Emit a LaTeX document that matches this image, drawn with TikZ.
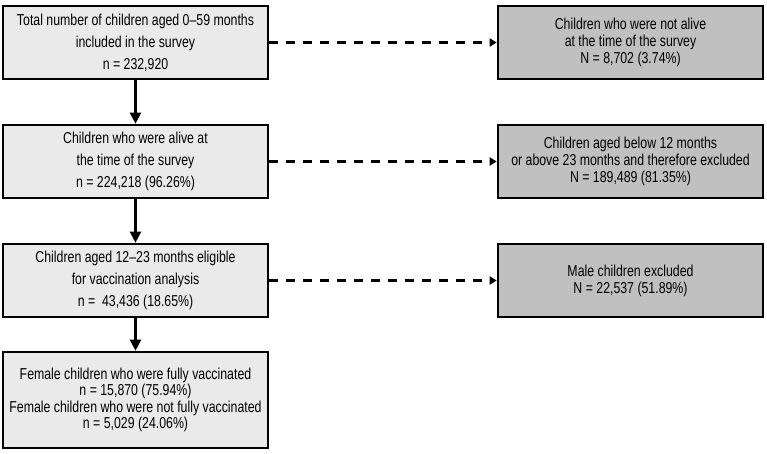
\documentclass[tikz,border=0pt]{standalone}
\usepackage{fontspec}
\setmainfont[FakeStretch=0.78]{Liberation Sans}
\usetikzlibrary{arrows.meta}
\definecolor{leftfill}{RGB}{234,234,234}
\definecolor{rightfill}{RGB}{192,192,192}
\tikzset{
  lbox/.style={draw=black, line width=2.6pt, fill=leftfill, minimum width=265pt, inner sep=0pt, align=center, font=\fontsize{15.8}{22}\selectfont},
  rbox/.style={draw=black, line width=2.6pt, fill=rightfill, minimum width=265pt, minimum height=73pt, inner sep=0pt, align=center, font=\fontsize{15.8}{17}\selectfont},
  solidarr/.style={line width=2.2pt, -{Triangle[length=11pt,width=11pt]}},
  dasharr/.style={line width=2.6pt, dash pattern=on 8.5pt off 8.5pt, -{Triangle[length=7pt,width=8pt]}}
}
\begin{document}
\begin{tikzpicture}[x=1pt,y=1pt]
\useasboundingbox (0,0) rectangle (767,-454);
\node[lbox, minimum height=73pt] (b1) at (135.5,-42.5) {Total number of children aged 0–59 months\\included in the survey\\n = 232,920};
\node[lbox, minimum height=73pt] (b2) at (135.5,-161.5) {Children who were alive at\\the time of the survey\\n = 224,218 (96.26\%)};
\node[lbox, minimum height=73pt] (b3) at (135.5,-280.5) {Children aged 12–23 months eligible\\for vaccination analysis\\n =\ \ 43,436 (18.65\%)};
\node[lbox, minimum height=96pt, font=\fontsize{15.8}{16.5}\selectfont] (b4) at (135.5,-400) {Female children who were fully vaccinated\\n = 15,870 (75.94\%)\\Female children who were not fully vaccinated\\n = 5,029 (24.06\%)};
\node[rbox] (r1) at (630.5,-42.5) {Children who were not alive\\at the time of the survey\\N = 8,702 (3.74\%)};
\node[rbox] (r2) at (630.5,-161.5) {Children aged below 12 months\\or above 23 months and therefore excluded\\N = 189,489 (81.35\%)};
\node[rbox] (r3) at (630.5,-280.5) {Male children excluded\\N = 22,537 (51.89\%)};
\draw[solidarr] (b1.south) -- (b2.north);
\draw[solidarr] (b2.south) -- (b3.north);
\draw[solidarr] (b3.south) -- (b4.north);
\draw[dasharr] (b1.east) -- (r1.west);
\draw[dasharr] (b2.east) -- (r2.west);
\draw[dasharr] (b3.east) -- (r3.west);
\end{tikzpicture}
\end{document}
